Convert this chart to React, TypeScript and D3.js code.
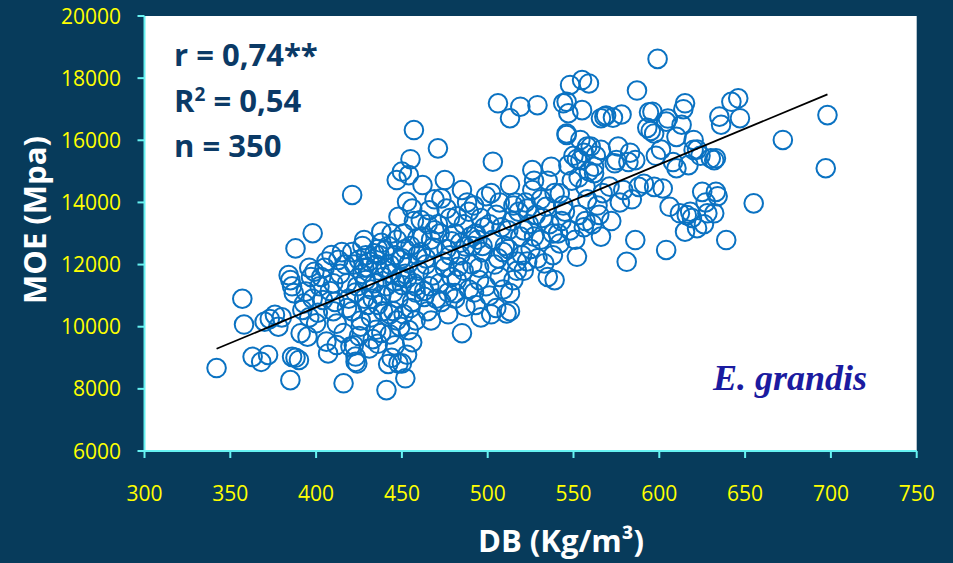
import React from "react";
import * as d3 from "d3";

// Sample data: [DB (kg/m3), MOE (MPa)]
const samples: [number, number][] = [
  [342,8670],[357,10900],[358,10070],[363,9030],[368,8870],[372,9090],[370,10160],[376,10380],[380,10300],[378,10000],[373,10250],[386,9030],[390,8930],[388,9000],[385,8280],[388,12520],[398,13010],[384,11660],[385,11500],[387,11080],[386,11300],[399,11770],[396,11900],[393,10750],[400,10110],[395,9680],[391,9790],[394,11130],[397,11600],[392,10540],[398,10900],[396,10300],
  [409,12310],[407,9140],[416,8180],[404,10860],[406,9520],[412,9410],[402,11300],[403,11600],[405,11900],[408,11150],[410,10500],[411,10800],[413,12150],[415,12400],[417,12000],[414,11700],[418,11400],[419,10900],[412,10100],[416,9800],[420,9360],[418,10600],[401,10450],[406,12100],[410,11400],
  [421,14240],[423,8870],[424,8820],[423,9040],[422,9400],[425,9700],[426,10200],[421,10500],[428,10900],[424,11300],[427,11700],[422,12000],[429,12300],[427,12600],[428,12790],[425,12150],[423,11100],[426,10000],[429,11500],[421,12400],[428,11900],[430,10700],
  [431,9300],[433,9600],[435,9900],[432,10300],[436,10700],[438,11000],[434,11400],[437,11800],[431,12100],[434,12360],[438,12700],[438,13060],[436,9450],[439,10500],[432,11200],[435,12000],[437,12300],[433,10900],[439,11600],[430,11900],[436,12500],[438,9800],
  [441,7960],[442,8800],[444,9000],[446,9400],[443,9750],[447,10200],[445,10500],[448,10900],[441,11300],[449,11600],[443,12000],[446,12300],[442,12600],[444,13000],[448,13540],[447,14720],[450,14990],[445,11100],[449,10000],[441,11900],[447,12800],[443,10400],[446,11450],[449,12150],[440,12450],[448,8820],[444,11700],
  [452,8340],[450,8820],[453,9100],[454,9890],[451,10400],[456,10800],[458,11100],[450,11340],[457,11400],[452,11700],[454,12040],[459,12300],[455,12600],[451,13000],[457,13400],[453,14020],[454,14880],[455,15390],[457,16330],[458,11300],[455,10600],[452,12500],[456,13800],[459,12850],[453,11550],[450,12200],[456,9500],[458,10200],
  [462,14560],[461,13430],[463,10960],[465,10500],[466,11300],[468,11650],[464,12000],[461,12400],[467,12800],[469,13100],[466,13750],[469,14100],[464,12200],[462,12900],[467,10200],[470,10900],[460,11800],[465,13300],[468,12550],[463,11150],
  [471,15740],[475,14720],[473,14130],[478,13500],[472,13000],[476,12500],[474,12100],[479,11600],[477,11100],[481,11080],[473,10800],[477,10400],[475,11900],[479,12750],[471,13300],[476,13800],[478,12300],[472,11400],
  [485,14400],[487,12580],[483,11930],[487,10640],[485,9790],[482,11500],[484,12300],[481,13000],[486,13300],[489,13700],[488,14000],[484,12700],[489,11200],[482,13550],[486,11800],[490,12900],[481,10900],
  [493,10700],[492,11100],[495,11500],[491,12000],[497,12400],[494,12800],[498,13200],[496,13500],[492,13900],[499,14200],[497,12600],[493,13000],[495,11900],[499,11300],[491,12600],[496,10300],
  [503,15310],[506,17190],[502,10400],[505,10600],[501,11000],[507,11600],[504,12000],[509,12400],[503,12800],[508,13200],[505,13600],[507,14000],[510,12600],[501,13300],[506,12200],[509,11200],[502,14300],
  [511,10430],[513,10500],[513,11080],[515,11500],[517,12100],[512,12500],[519,12900],[514,13400],[518,13700],[516,14000],[513,14560],[513,16710],[519,17080],[512,13100],[517,11800],[520,12300],[515,13900],
  [529,17130],[526,15040],[521,11800],[523,12100],[525,12500],[527,12900],[524,13300],[528,13600],[522,14000],[526,14400],[529,12200],[523,13800],[521,13100],[527,14700],
  [534,13860],[537,15150],[533,12040],[539,11500],[535,11600],[538,12300],[531,12800],[536,13300],[532,13500],[539,14300],[535,14700],[531,14100],[538,13000],
  [542,14290],[542,12680],[546,17240],[548,17780],[544,17190],[547,16870],[546,16220],[546,16170],[541,13000],[543,13400],[545,13700],[549,14700],[547,15200],[544,13900],[550,15500],[548,13100],
  [552,12250],[554,16010],[555,17940],[559,17830],[555,16970],[554,15360],[551,12800],[556,13200],[553,13600],[558,14100],[557,14500],[559,15000],[552,15400],[556,15600],[558,15800],[553,14800],[557,13400],
  [562,15150],[562,14940],[566,16710],[566,15690],[566,12900],[568,16760],[569,16800],[561,13300],[564,13900],[567,14300],[563,15500],[565,13600],[560,15800],
  [574,15260],[571,14510],[575,15360],[579,14400],[576,15800],[572,13400],[577,14000],[573,16730],[578,16830],
  [581,12090],[586,12790],[587,17600],[586,15360],[583,15600],[584,14100],[588,14500],[582,15300],
  [599,18620],[596,16920],[597,16220],[597,14500],[593,16400],[595,16300],[598,15500],[591,14600],[594,16900],
  [604,12470],[602,14450],[606,13860],[604,16600],[610,16110],[610,15100],[608,15300],[605,16700],[601,15700],
  [615,17190],[615,13060],[616,13590],[618,13700],[613,16500],[614,17000],[620,15690],[620,16010],[612,13650],[617,15200],[619,13500],
  [622,13170],[625,14340],[628,13650],[622,15700],[627,14000],[624,15500],[630,15420],[626,13300],
  [633,14340],[633,15420],[635,16760],[632,15360],[639,12790],[632,13650],[634,14200],[636,16500],
  [642,17240],[646,17350],[647,16710],[655,13970],[672,16010],[698,16810],[697,15100],
];

const xTicks = [300, 350, 400, 450, 500, 550, 600, 650, 700, 750];
const yTicks = [6000, 8000, 10000, 12000, 14000, 16000, 18000, 20000];
const trendX = [342, 698];
const trendCoef = [1424, 23.0]; // intercept, slope
const statLines = ["r = 0,74**", "R2 = 0,54", "n = 350"];
const speciesLabel = "E. grandis";
const xTitle = "DB (Kg/m³)";
const yTitle = "MOE (Mpa)";

const W = 953, H = 563;
const L = 144.5, R = 916.7, T = 16, B = 451;
const BG = "#073b5b";
const AXIS = "#66f2f2";

export default function App() {
  const x = d3.scaleLinear().domain([300, 750]).range([L, R]);
  const y = d3.scaleLinear().domain([6000, 20000]).range([B, T]);
  const trend = d3.line<number>().x(v => x(v)).y(v => y(trendCoef[0] + trendCoef[1] * v))(trendX) || "";
  const font = "'Open Sans', 'DejaVu Sans', sans-serif";
  return (
    <svg width={W} height={H} style={{ position: "absolute", left: 0, top: 0, display: "block" }}>
      <rect x={0} y={0} width={W} height={H} fill={BG} />
      <rect x={L} y={T} width={R - L} height={B - T} fill="#ffffff" />
      {samples.map((d, i) => (
        <circle key={i} cx={x(d[0])} cy={y(d[1])} r={9.3} fill="none" stroke="#0a72c2" strokeWidth={2} />
      ))}
      <path d={trend} stroke="#000" strokeWidth={1.8} fill="none" />
      {/* axes */}
      <line x1={L} x2={L} y1={T} y2={B} stroke={AXIS} strokeWidth={2} />
      <line x1={L} x2={R} y1={B} y2={B} stroke={AXIS} strokeWidth={2} />
      {yTicks.map(t => (
        <g key={t}>
          <line x1={L - 7} x2={L} y1={y(t)} y2={y(t)} stroke={AXIS} strokeWidth={2} />
          <text x={121} y={y(t)} dy="0.36em" textAnchor="end" fill="#ffff00" fontFamily={font} fontSize={21}>{t}</text>
        </g>
      ))}
      {xTicks.map(t => (
        <g key={t}>
          <line x1={x(t)} x2={x(t)} y1={B} y2={B + 7} stroke={AXIS} strokeWidth={2} />
          <text x={x(t)} y={493} dy="0.36em" textAnchor="middle" fill="#ffff00" fontFamily={font} fontSize={21}>{t}</text>
        </g>
      ))}
      <text x={561} y={552} textAnchor="middle" fill="#ffffff" fontFamily={font} fontWeight="bold" fontSize={31}>{xTitle}</text>
      <text transform="translate(46,220) rotate(-90)" textAnchor="middle" fill="#ffffff" fontFamily={font} fontWeight="bold" fontSize={31}>{yTitle}</text>
      <g fill="#0b3a66" fontFamily={font} fontWeight="bold" fontSize={31}>
        <text x={174} y={66}>{statLines[0]}</text>
        <text x={174} y={112}>R<tspan dy={-11} fontSize={19}>2</tspan><tspan dy={11}>{statLines[1].slice(2)}</tspan></text>
        <text x={174} y={157}>{statLines[2]}</text>
      </g>
      <text x={713} y={390} fill="#1b1ba0" fontFamily="'Liberation Serif', 'DejaVu Serif', serif" fontStyle="italic" fontWeight="bold" fontSize={36}>{speciesLabel}</text>
    </svg>
  );
}
